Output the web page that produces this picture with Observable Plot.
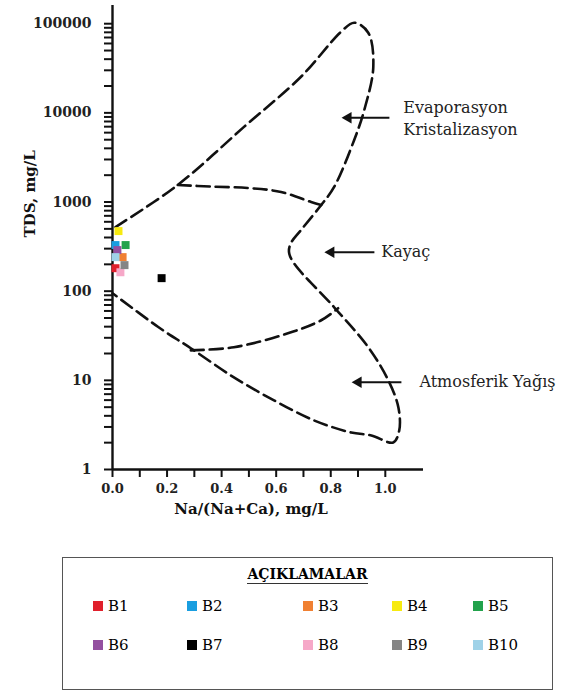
<!DOCTYPE html>
<html><head><meta charset="utf-8">
<script src="https://cdn.jsdelivr.net/npm/d3@7"></script>
<script src="https://cdn.jsdelivr.net/npm/@observablehq/plot@0.6"></script>
<style>
body{margin:0;background:#fff;font-family:"DejaVu Serif",serif;}
#wrap{position:relative;width:569px;height:695px;}
#legend{position:absolute;left:62px;top:557px;width:491px;height:133px;border:1.5px solid #555;box-sizing:border-box;}
#legend .title{position:absolute;left:0;right:0;top:8px;text-align:center;font-weight:bold;font-size:14px;}
#legend .title span{border-bottom:1.5px solid #333;padding-bottom:1px;}
#legend .grid{position:absolute;left:30px;top:38px;display:grid;grid-template-columns:94px 116px 89px 81px 80px;row-gap:19px;}
#legend .item{display:flex;align-items:center;font-size:15px;height:20px;}
#legend .sw{width:10px;height:10px;margin-right:5px;display:inline-block;}
</style></head>
<body><div id="wrap"><div id="chart"></div><div id="legend"></div></div>
<script>
// Gibbs diagram boundaries
const outerX = [0.011,0.239,0.482,0.691,0.838,0.886,0.9375,0.956,0.923,0.886,0.8125,0.765,0.691,0.654,0.647,0.665,0.8125,0.9375,1.011,1.048,1.051,1.029,0.949,0.875,0.739,0.592,0.445,0.287,0.169,0.0];
const outerY = [524,1553,6960,25400,81300,102600,79200,32900,10800,4970,1475,925,485,346,274,206,66,23.5,10,4.97,2.74,2.01,2.41,2.60,3.55,5.96,10.8,22.9,39.4,95];
const upperX = [0.239,0.360,0.496,0.618,0.728,0.765];
const upperY = [1553,1490,1437,1295,1000,925];
const lowerX = [0.287,0.445,0.643,0.765,0.827];
const lowerY = [21.7,23.5,33.7,47.2,64.4];

// Samples
const sampleNames = ["B1","B2","B3","B4","B5","B6","B7","B8","B9","B10"];
const sampleX = [0.011,0.011,0.037,0.022,0.048,0.018,0.18,0.029,0.044,0.011];
const sampleY = [181,329,241,472,329,289,140,163,196,241];
const sampleColors = ["#e0202c","#1a9ee0","#f08032","#f7ea10","#22a24c","#9450a0","#000000","#f6a8c8","#858585","#9fd2e8"];

// Annotations
const noteText = ["Evaporasyon","Kristalizasyon","Kayaç","Atmosferik Yağış"];
const noteX = [1.066,1.066,0.985,1.125];
const noteY = [11400,6440,274,9.5];
const arrowX1 = [1.015,0.96,1.059];
const arrowX2 = [0.864,0.801,0.901];
const arrowY = [8790,274,9.5];

// Axes
const xTicks = [0,0.1,0.2,0.3,0.4,0.5,0.6,0.7,0.8,0.9,1.0];
const yMajor = [1,10,100,1000,10000,100000];
const yTicks = yMajor.slice(0,5).flatMap(d => [1,2,3,4,5,6,7,8,9].map(k => k*d)).concat([100000]);

const outer = outerX.map((x,i)=>({x, y: outerY[i]}));
const upper = upperX.map((x,i)=>({x, y: upperY[i]}));
const lower = lowerX.map((x,i)=>({x, y: lowerY[i]}));
const samples = sampleNames.map((n,i)=>({n, x: sampleX[i], y: sampleY[i], c: sampleColors[i]}));
const notes = noteText.map((t,i)=>({t, x: noteX[i], y: noteY[i]}));
const arrows = arrowX1.map((x1,i)=>({x1, x2: arrowX2[i], y: arrowY[i]}));

const dash = {x:"x", y:"y", curve:"catmull-rom", stroke:"#111", strokeWidth:2.6, strokeDasharray:"13,6"};
const serif = "DejaVu Serif";

const chart = Plot.plot({
  width: 569, height: 530,
  marginLeft: 112, marginRight: 146, marginTop: 5, marginBottom: 61,
  style: {fontFamily: serif, background: "#fff", color: "#111"},
  x: {domain: [0, 1.14]},
  y: {type: "log", domain: [1, 160000]},
  marks: [
    Plot.axisY({ticks: yTicks, tickSize: 8, tickPadding: 13, stroke: "#111", strokeWidth: 2, strokeOpacity: 1,
      fontSize: 14, fontWeight: "bold", fill: "#222",
      tickFormat: d => yMajor.includes(d) ? String(d) : "", label: null}),
    Plot.axisX({ticks: xTicks, tickSize: 8, tickPadding: 6, stroke: "#111", strokeWidth: 2, strokeOpacity: 1,
      fontSize: 13, fontWeight: "bold", fill: "#222",
      tickFormat: d => (Math.round(d*10) % 2 === 0) ? d.toFixed(1) : "", label: null}),
    Plot.ruleX([0], {stroke: "#111", strokeWidth: 2.4}),
    Plot.ruleY([1], {stroke: "#111", strokeWidth: 2.4}),
    Plot.line(outer, dash),
    Plot.line(upper, dash),
    Plot.line(lower, dash),
    Plot.dot(samples, {x:"x", y:"y", fill:"c", symbol:"square", r: 4.5}),
    Plot.link(arrows, {x1:"x1", x2:"x2", y1:"y", y2:"y", stroke:"#111", strokeWidth: 2}),
    Plot.dot(arrows, {x:"x2", y:"y", symbol:"triangle2", fill:"#111", r: 5.5, rotate: -90}),
    Plot.text(notes, {x:"x", y:"y", text:"t", textAnchor:"start", fontSize: 16, fill:"#222"}),
    Plot.text(["TDS, mg/L"], {frameAnchor:"left", rotate:-90, dx:-82, fontSize:15, fontWeight:"bold"}),
    Plot.text(["Na/(Na+Ca), mg/L"], {frameAnchor:"bottom", dx:-17, dy:44, fontSize:15, fontWeight:"bold"})
  ]
});
document.getElementById("chart").appendChild(chart);

// Legend
const lg = document.getElementById("legend");
lg.innerHTML = '<div class="title"><span>AÇIKLAMALAR</span></div>';
const grid = document.createElement("div");
grid.className = "grid";
sampleNames.forEach((n,i) => {
  const it = document.createElement("div");
  it.className = "item";
  it.innerHTML = `<span class="sw" style="background:${sampleColors[i]}"></span>${n}`;
  grid.appendChild(it);
});
lg.appendChild(grid);
</script></body></html>
